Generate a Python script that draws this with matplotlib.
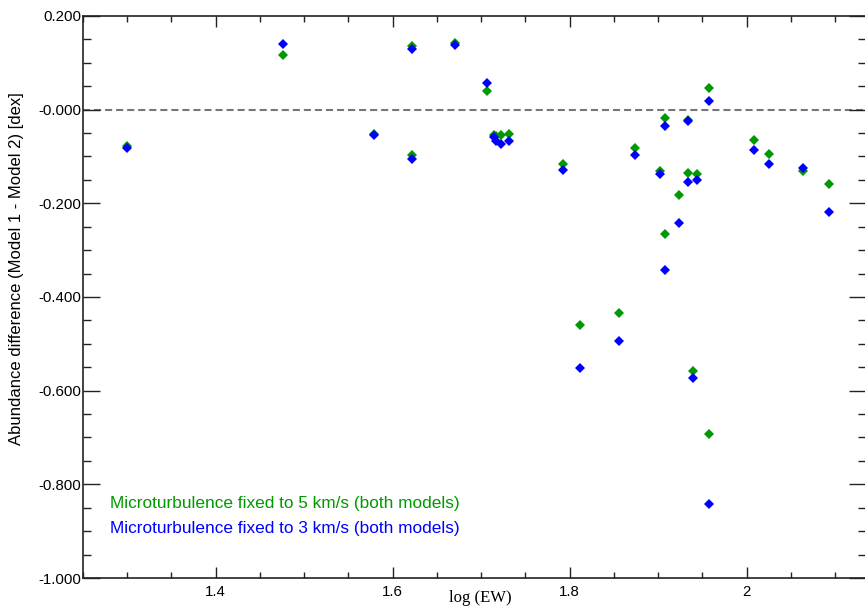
import matplotlib
matplotlib.use("Agg")
import matplotlib.pyplot as plt
from matplotlib.ticker import MultipleLocator, FuncFormatter

# log equivalent width of each line
log_ew = [1.300, 1.476, 1.579, 1.622, 1.622, 1.671, 1.707, 1.715, 1.717, 1.723,
          1.732, 1.792, 1.812, 1.856, 1.874, 1.902, 1.908, 1.908, 1.924, 1.934,
          1.934, 1.939, 1.944, 1.958, 1.958, 2.008, 2.025, 2.064, 2.093]

# abundance difference (Model 1 - Model 2), microturbulence fixed to 5 km/s
diff_vt5 = [-0.077, 0.117, -0.051, 0.136, -0.097, 0.142, 0.040, -0.055, -0.057, -0.055,
            -0.051, -0.115, -0.460, -0.435, -0.081, -0.131, -0.018, -0.266, -0.183, -0.023,
            -0.135, -0.559, -0.138, 0.047, -0.693, -0.064, -0.095, -0.132, -0.159]

# abundance difference (Model 1 - Model 2), microturbulence fixed to 3 km/s
diff_vt3 = [-0.082, 0.140, -0.054, 0.130, -0.106, 0.139, 0.056, -0.058, -0.066, -0.074,
            -0.067, -0.129, -0.552, -0.494, -0.096, -0.138, -0.035, -0.342, -0.243, -0.025,
            -0.154, -0.574, -0.150, 0.019, -0.842, -0.086, -0.115, -0.124, -0.218]

GREEN = "#009900"
BLUE = "#0000ff"

plt.rcParams["font.family"] = ["Liberation Sans", "DejaVu Sans"]

fig = plt.figure(figsize=(8.65, 6.12), dpi=100)
ax = fig.add_axes([83 / 865, 34 / 612, 783 / 865, 562 / 612])

ax.axhline(0.0, color="#777777", lw=1.5, dashes=(3.4, 1.9), zorder=1)

ax.plot(log_ew, diff_vt5, ls="none", marker="D", ms=5.4, mew=0, color=GREEN, zorder=3)
ax.plot(log_ew, diff_vt3, ls="none", marker="D", ms=5.4, mew=0, color=BLUE, zorder=4)

ax.set_xlim(1.25, 2.135)
ax.set_ylim(-1.0, 0.2)

ax.xaxis.set_major_locator(MultipleLocator(0.2))
ax.xaxis.set_minor_locator(MultipleLocator(0.05))
ax.yaxis.set_major_locator(MultipleLocator(0.2))
ax.yaxis.set_minor_locator(MultipleLocator(0.05))


def fmt_x(v, pos):
    return f"{v:g}"


def fmt_y(v, pos):
    if abs(v) < 1e-9:
        return "-0.000"
    return f"{v:.3f}"


ax.xaxis.set_major_formatter(FuncFormatter(fmt_x))
ax.yaxis.set_major_formatter(FuncFormatter(fmt_y))

ax.tick_params(which="both", direction="in", top=True, right=True, width=1.0,
               color="#222222", labelsize=10.8)
ax.tick_params(axis="x", which="major", length=8, pad=5)
ax.tick_params(axis="x", which="minor", length=4)
ax.tick_params(axis="y", which="major", length=12, pad=1.5)
ax.tick_params(axis="y", which="minor", length=6)

for s in ax.spines.values():
    s.set_linewidth(1.2)
    s.set_color("#222222")

fig.text(480 / 865, 1 - 598 / 612, "log (EW)", family=["Liberation Serif", "DejaVu Serif"],
         fontsize=12, ha="center", va="center")
fig.text(17 / 865, 1 - 269 / 612, "Abundance difference (Model 1 - Model 2) [dex]",
         fontsize=12, rotation=90, ha="center", va="center")

ax.text(0.0345, 0.132, "Microturbulence fixed to 5 km/s (both models)", color=GREEN,
        fontsize=12.4, ha="left", va="center", transform=ax.transAxes)
ax.text(0.0345, 0.0875, "Microturbulence fixed to 3 km/s (both models)", color=BLUE,
        fontsize=12.4, ha="left", va="center", transform=ax.transAxes)

fig.savefig("out.png", dpi=100)
